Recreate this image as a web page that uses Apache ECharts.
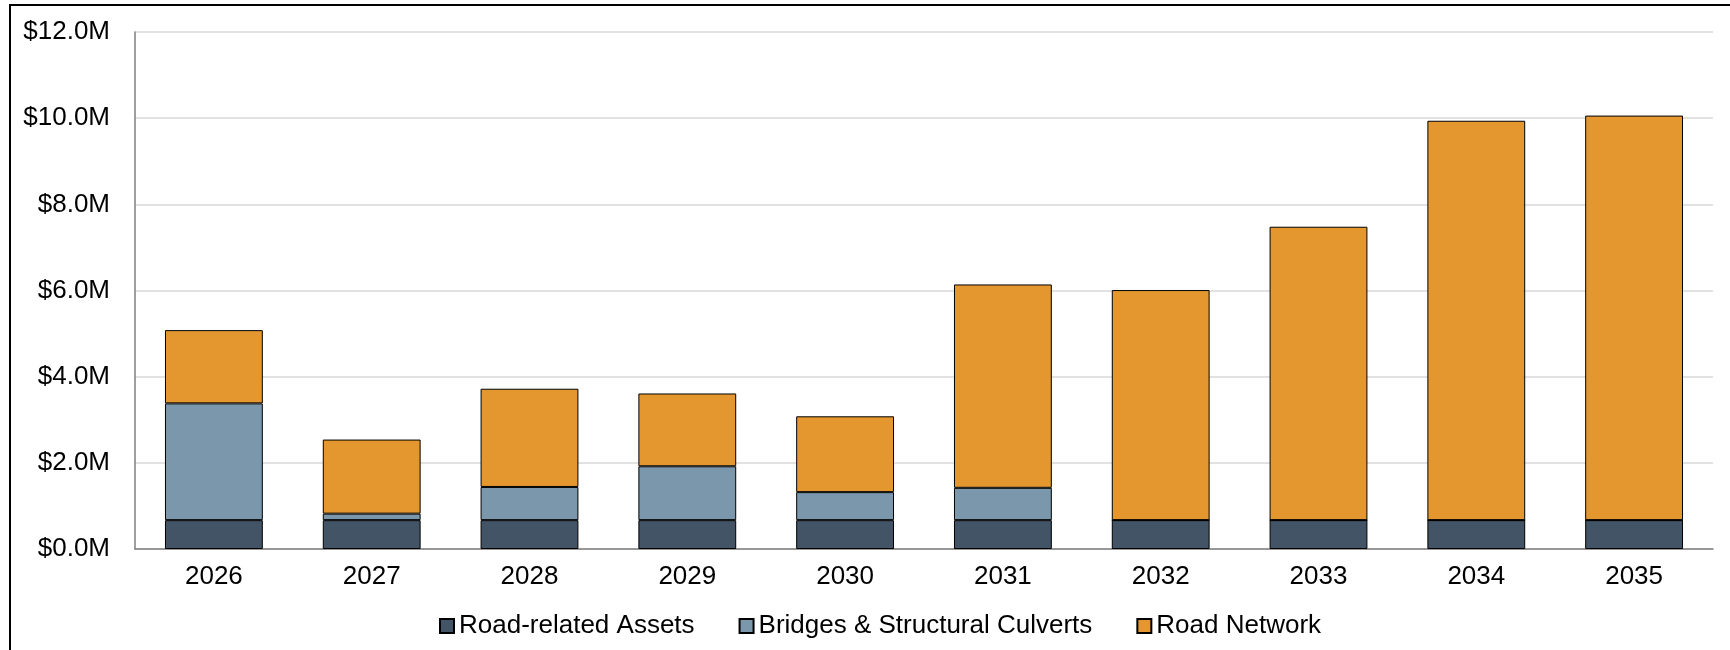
<!DOCTYPE html>
<html>
<head>
<meta charset="utf-8">
<script src="https://cdn.jsdelivr.net/npm/echarts@6/dist/echarts.min.js"></script>
<style>
html,body{margin:0;padding:0;background:#fff;}
#chart{width:1730px;height:650px;}
</style>
</head>
<body>
<div id="chart"></div>
<script>
// Data (values in $ millions)
const categories = ['2026','2027','2028','2029','2030','2031','2032','2033','2034','2035'];
const roadRelatedAssets = [0.67,0.67,0.67,0.67,0.67,0.67,0.67,0.67,0.67,0.67];
const bridgesCulverts   = [2.71,0.15,0.77,1.25,0.65,0.75,0,0,0,0];
const roadNetwork       = [1.70,1.72,2.28,1.69,1.76,4.72,5.34,6.81,9.27,9.39];
const seriesNames = ['Road-related Assets','Bridges & Structural Culverts','Road Network'];
const yTicks = [0,2,4,6,8,10,12];

const colors = ['#425466','#7b97ab','#e3972e'];
const font = '"Liberation Sans", Arial, sans-serif';

const chart = echarts.init(document.getElementById('chart'), null, {renderer:'canvas'});
const mk = (name, data, color) => ({
  name, type:'bar', stack:'total', data, barWidth:'62%',
  itemStyle:{color, borderColor:'#000', borderWidth:1},
  emphasis:{disabled:true}
});
chart.setOption({
  animation:false,
  textStyle:{fontFamily:font},
  graphic:[{type:'rect', shape:{x:10,y:5,width:1740,height:700}, style:{fill:'none', stroke:'#000', lineWidth:2}, silent:true, z:100}],
  grid:{left:135, right:17, top:32, bottom:101, containLabel:false},
  legend:{
    data:seriesNames, left:434, top:608, itemWidth:14, itemHeight:14, itemGap:44,
    icon:'rect',
    textStyle:{fontSize:26, color:'#000', fontFamily:font}
  },
  xAxis:{
    type:'category', data:categories,
    axisLine:{lineStyle:{color:'#7f7f7f', width:1.5}},
    axisTick:{show:false},
    axisLabel:{fontSize:26, color:'#000', margin:15, fontFamily:font}
  },
  yAxis:{
    type:'value', min:0, max:12, interval:2,
    axisLine:{show:true, lineStyle:{color:'#7f7f7f', width:1.5}},
    axisTick:{show:false},
    splitLine:{lineStyle:{color:'#d9d9d9', width:1.5}},
    axisLabel:{fontSize:26, color:'#000', margin:25, fontFamily:font,
      formatter: v => yTicks.includes(v) ? '$' + v.toFixed(1) + 'M' : ''}
  },
  series:[
    mk(seriesNames[0], roadRelatedAssets, colors[0]),
    mk(seriesNames[1], bridgesCulverts, colors[1]),
    mk(seriesNames[2], roadNetwork, colors[2])
  ]
});
</script>
</body>
</html>
